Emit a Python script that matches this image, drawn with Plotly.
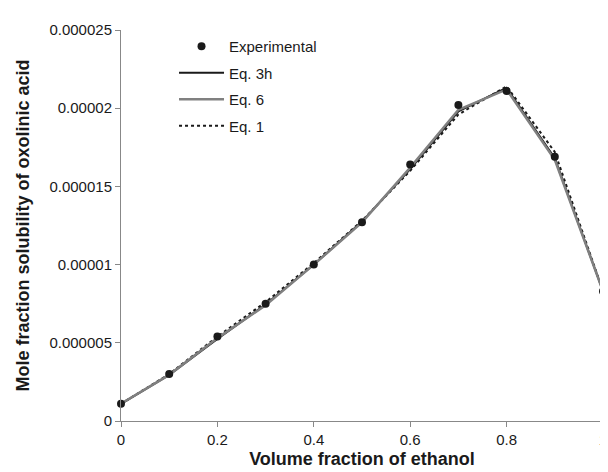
import plotly.graph_objects as go

x_vals = [0, 0.1, 0.2, 0.3, 0.4, 0.5, 0.6, 0.7, 0.8, 0.9, 1.0]
experimental = [1.1e-6, 3.0e-6, 5.4e-6, 7.5e-6, 1.0e-5, 1.27e-5, 1.64e-5, 2.02e-5, 2.11e-5, 1.69e-5, 8.3e-6]
eq3h = [1.1e-6, 2.95e-6, 5.25e-6, 7.45e-6, 1.0e-5, 1.275e-5, 1.61e-5, 1.98e-5, 2.13e-5, 1.68e-5, 8.3e-6]
eq6 = [1.1e-6, 2.95e-6, 5.3e-6, 7.4e-6, 1.0e-5, 1.27e-5, 1.62e-5, 1.99e-5, 2.12e-5, 1.67e-5, 8.3e-6]
eq1 = [1.1e-6, 3.0e-6, 5.4e-6, 7.6e-6, 1.01e-5, 1.28e-5, 1.60e-5, 1.96e-5, 2.14e-5, 1.72e-5, 8.3e-6]

y_tickvals = [0, 5e-6, 1e-5, 1.5e-5, 2e-5, 2.5e-5]
y_ticktext = ["0", "0.000005", "0.00001", "0.000015", "0.00002", "0.000025"]
x_tickvals = [0, 0.2, 0.4, 0.6, 0.8, 1.0]
x_ticktext = ["0", "0.2", "0.4", "0.6", "0.8", "1"]

fig = go.Figure()
fig.add_trace(go.Scatter(x=x_vals, y=eq3h, mode="lines", name="Eq. 3h",
                         line=dict(color="#1a1a1a", width=2), legendgroup="b", legendrank=2))
fig.add_trace(go.Scatter(x=x_vals, y=eq1, mode="lines", name="Eq. 1",
                         line=dict(color="#1a1a1a", width=2, dash="dot"), legendgroup="d", legendrank=4))
fig.add_trace(go.Scatter(x=x_vals, y=eq6, mode="lines", name="Eq. 6",
                         line=dict(color="#808080", width=2.5), legendgroup="c", legendrank=3))
fig.add_trace(go.Scatter(x=x_vals, y=experimental, mode="markers", name="Experimental",
                         marker=dict(color="#1a1a1a", size=8), legendgroup="a", legendrank=1,
                         cliponaxis=False))

fig.update_layout(
    width=608, height=472,
    margin=dict(l=113, r=9, t=22, b=59),
    paper_bgcolor="white", plot_bgcolor="white",
    font=dict(family="Liberation Sans, Arial, sans-serif", size=15, color="#1a1a1a"),
    legend=dict(x=0.11, y=1.0, xanchor="left", yanchor="top",
                bgcolor="rgba(0,0,0,0)", font=dict(size=15), itemwidth=45,
                tracegroupgap=4, traceorder="grouped"),
    xaxis=dict(range=[0, 1], tickvals=x_tickvals, ticktext=x_ticktext,
               showgrid=False, zeroline=False, showline=True, linecolor="#888888",
               linewidth=1, ticks="outside", ticklen=5, tickcolor="#888888",
               title=dict(text="<b>Volume fraction of ethanol</b>", standoff=5)),
    yaxis=dict(range=[0, 2.5e-5], tickvals=y_tickvals, ticktext=y_ticktext,
               showgrid=False, zeroline=False, showline=True, linecolor="#888888",
               linewidth=1, ticks="outside", ticklen=5, tickcolor="#888888",
               title=dict(text="<b>Mole fraction solubility of oxolinic acid</b>", standoff=15)),
)

fig.write_html("out.html")
